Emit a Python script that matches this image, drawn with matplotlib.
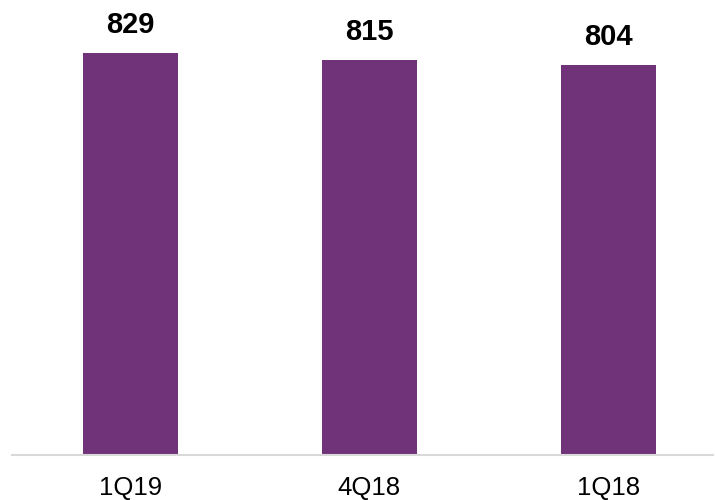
import matplotlib
matplotlib.use("Agg")
import matplotlib.pyplot as plt

categories = ["1Q19", "4Q18", "1Q18"]
values = [829, 815, 804]

plt.rcParams['font.family'] = ['Liberation Sans', 'DejaVu Sans']

fig = plt.figure(figsize=(7.15, 5), dpi=100)
# axes spans from x=12 to x=713 px, baseline at y=455 px
ax = fig.add_axes([12 / 715, 45 / 500, 701 / 715, 455 / 500])

x = list(range(len(categories)))
bars = ax.bar(x, values, width=0.4, color="#70337A")

ax.set_xlim(-0.495, -0.495 + 701 / 239)
ax.set_ylim(0, 938)

for rect, v in zip(bars, values):
    ax.annotate(str(v), (rect.get_x() + rect.get_width() / 2, v),
                xytext=(0, 10), textcoords="offset points",
                ha="center", va="bottom", fontsize=21, fontweight="bold")

ax.set_xticks(x)
ax.set_xticklabels(categories, fontsize=18.5)
ax.tick_params(axis="x", length=0, pad=15)
ax.set_yticks([])

for s in ["top", "right", "left"]:
    ax.spines[s].set_visible(False)
ax.spines["bottom"].set_color("#d9d9d9")
ax.spines["bottom"].set_linewidth(1.5)

fig.savefig("out.png", dpi=100)
